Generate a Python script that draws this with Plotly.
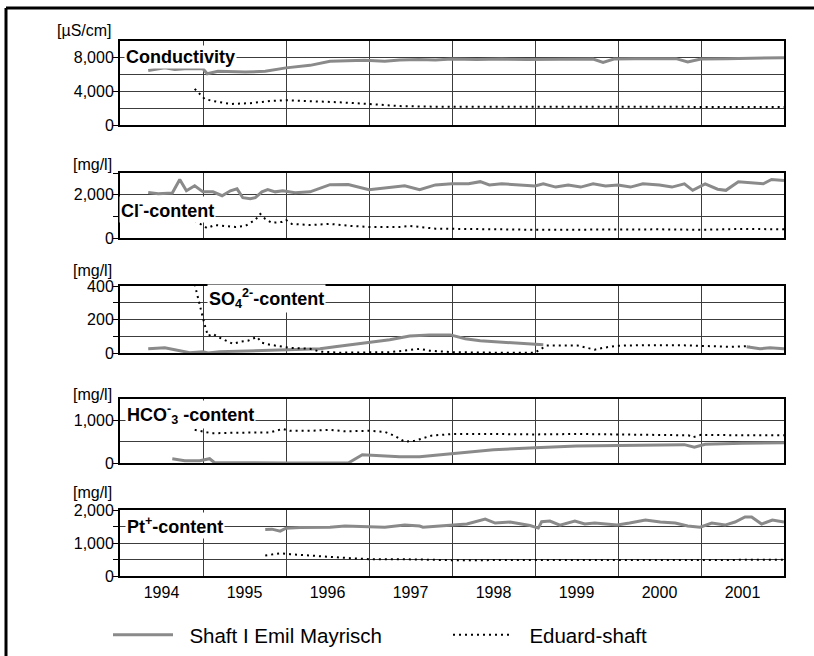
import plotly.graph_objects as go

W, H = 814, 656

# ---------------- data ----------------
year_ticks = [1994.5, 1995.5, 1996.5, 1997.5, 1998.5, 1999.5, 2000.5, 2001.5]
year_labels = ["1994", "1995", "1996", "1997", "1998", "1999", "2000", "2001"]
year_bounds = [1995, 1996, 1997, 1998, 1999, 2000, 2001]

series_names = ["Shaft I Emil Mayrisch", "Eduard-shaft"]

# Conductivity [µS/cm]
cond_t_shaft = [1994.34, 1994.54, 1994.66, 1994.78, 1995.00, 1995.05, 1995.18, 1995.51, 1995.75,
                1996.00, 1996.29, 1996.53, 1996.95, 1997.19, 1997.37, 1997.6, 1997.8, 1998.0,
                1998.3, 1998.6, 1998.9, 1999.2, 1999.5, 1999.7, 1999.82, 1999.95, 2000.2, 2000.5,
                2000.7, 2000.84, 2001.0, 2001.3, 2001.6, 2002.0]
cond_shaft = [6500, 6800, 6600, 6700, 6700, 6100, 6400, 6300, 6400,
              6800, 7100, 7600, 7700, 7600, 7750, 7800, 7750, 7850,
              7800, 7850, 7800, 7850, 7900, 7850, 7450, 7850, 7900, 7850,
              7900, 7500, 7850, 7900, 7950, 8000]
cond_t_edu = [1994.90, 1994.96, 1995.02, 1995.12, 1995.33, 1995.57, 1995.81, 1996.00, 1996.29,
              1996.65, 1997.00, 1997.37, 1997.8, 1998.3, 1998.8, 1999.3, 1999.8, 2000.3, 2000.8,
              2001.3, 2002.0]
cond_edu = [4300, 3700, 3100, 2850, 2500, 2600, 2850, 2950, 2850,
            2700, 2500, 2250, 2180, 2170, 2150, 2150, 2150, 2150, 2150,
            2150, 2150]

# Cl- content [mg/l]
cl_t_shaft = [1994.34, 1994.46, 1994.63, 1994.72, 1994.80, 1994.90, 1995.00, 1995.12, 1995.23,
              1995.33, 1995.41, 1995.48, 1995.57, 1995.63, 1995.71, 1995.78, 1995.87, 1995.96,
              1996.11, 1996.29, 1996.53, 1996.75, 1997.00, 1997.43, 1997.61, 1997.8, 1998.0,
              1998.2, 1998.34, 1998.45, 1998.6, 1998.8, 1999.0, 1999.1, 1999.25, 1999.4, 1999.55,
              1999.7, 1999.85, 2000.0, 2000.15, 2000.3, 2000.5, 2000.65, 2000.8, 2000.9, 2001.05,
              2001.2, 2001.3, 2001.45, 2001.6, 2001.75, 2001.85, 2002.0]
cl_shaft = [2100, 2040, 2080, 2700, 2180, 2410, 2130, 2130, 1950,
            2180, 2270, 1860, 1810, 1860, 2130, 2230, 2130, 2180,
            2090, 2130, 2460, 2470, 2230, 2410, 2230, 2450, 2500,
            2500, 2600, 2450, 2500, 2450, 2400, 2500, 2350, 2450, 2350,
            2500, 2400, 2450, 2350, 2500, 2450, 2350, 2500, 2200, 2500,
            2250, 2200, 2600, 2550, 2500, 2700, 2650]
cl_t_edu = [1994.90, 1995.00, 1995.05, 1995.14, 1995.27, 1995.39, 1995.51, 1995.63, 1995.69,
            1995.75, 1995.83, 1995.95, 1996.00, 1996.07, 1996.29, 1996.53, 1996.77, 1997.00,
            1997.37, 1997.49, 1997.8, 1998.2, 1998.6, 1999.0, 1999.5, 2000.0, 2000.5, 2001.0,
            2001.5, 2002.0]
cl_edu = [800, 560, 460, 600, 560, 510, 560, 835, 1110,
          880, 700, 740, 835, 650, 600, 650, 560, 510,
          510, 560, 430, 400, 400, 380, 400, 390, 400, 380,
          420, 400]

# SO4 2- content [mg/l]
so4_t_shaft = [1994.34, 1994.54, 1994.66, 1994.84, 1995.00, 1995.06, 1995.20, 1995.57, 1996.00,
               1996.41, 1996.59, 1997.00, 1997.25, 1997.49, 1997.73, 1997.98, 1998.16, 1998.34,
               1998.70, 1999.10, 1999.12, 2001.55, 2001.71, 2001.83, 2002.0]
so4_shaft = [25, 31, 20, 2, 8, 0, 8, 14, 20,
             25, 37, 61, 79, 102, 108, 108, 85, 73,
             61, 49, None, 37, 25, 31, 25]
so4_t_edu = [1994.90, 1994.93, 1994.96, 1995.00, 1995.02, 1995.06, 1995.12, 1995.18, 1995.27,
             1995.36, 1995.45, 1995.54, 1995.65, 1995.71, 1995.81, 1995.96, 1996.05, 1996.29,
             1996.41, 1996.65, 1997.00, 1997.25, 1997.43, 1997.61, 1997.73, 1998.00, 1998.5,
             1999.0, 1999.14, 1999.51, 1999.72, 1999.82, 1999.99, 2000.3, 2000.7, 2001.11,
             2001.35, 2001.59]
so4_edu = [410, 345, 286, 209, 168, 102, 114, 96, 73,
           55, 67, 73, 96, 61, 49, 37, 31, 25,
           8, 2, 2, 5, 14, 25, 14, 5, 2,
           2, 45, 45, 20, 31, 43, 47, 47, 43,
           37, 42]

# HCO3- content [mg/l]
hco3_t_shaft = [1994.63, 1994.78, 1994.96, 1995.08, 1995.14, 1995.5, 1996.0, 1996.5, 1996.75,
                1996.92, 1997.13, 1997.37, 1997.61, 1998.0, 1998.5, 1999.0, 1999.5, 2000.0,
                2000.5, 2000.8, 2000.92, 2001.05, 2001.5, 2002.0]
hco3_shaft = [100, 54, 54, 100, 7, 0, 0, 0, 0,
              194, 170, 147, 147, 220, 310, 360, 400, 410,
              420, 430, 370, 440, 460, 475]
hco3_t_edu = [1994.90, 1995.00, 1995.11, 1995.33, 1995.57, 1995.81, 1995.96, 1996.05, 1996.29,
              1996.53, 1996.71, 1997.00, 1997.19, 1997.31, 1997.43, 1997.55, 1997.75, 1998.0,
              1998.5, 1999.0, 1999.5, 2000.0, 2000.5, 2000.85, 2000.9, 2001.0, 2001.5, 2002.0]
hco3_edu = [777, 730, 695, 707, 707, 718, 800, 754, 754,
            777, 742, 754, 730, 637, 497, 520, 640, 680,
            680, 670, 680, 670, 660, 650, 600, 660, 650, 650]

# Pt+ content [mg/l]
pt_t_shaft = [1995.75, 1995.83, 1995.93, 1996.00, 1996.17, 1996.53, 1996.71, 1996.89, 1997.19,
              1997.43, 1997.61, 1997.65, 1998.00, 1998.18, 1998.40, 1998.52, 1998.70, 1998.94,
              1999.04, 1999.08, 1999.18, 1999.30, 1999.48, 1999.60, 1999.72, 1999.84, 1999.99,
              2000.14, 2000.33, 2000.51, 2000.69, 2000.84, 2000.99, 2001.13, 2001.29, 2001.41,
              2001.53, 2001.61, 2001.73, 2001.86, 2002.00]
pt_shaft = [1412, 1420, 1360, 1450, 1467, 1480, 1513, 1497, 1480,
            1543, 1513, 1480, 1543, 1574, 1726, 1604, 1635, 1528,
            1452, 1645, 1665, 1543, 1665, 1574, 1604, 1574, 1543,
            1604, 1696, 1635, 1604, 1513, 1480, 1604, 1543, 1635,
            1787, 1787, 1574, 1696, 1635]
pt_t_edu = [1995.75, 1995.93, 1996.05, 1996.29, 1996.53, 1996.77, 1997.00, 1997.37, 1998.0,
            1998.5, 1999.0, 1999.5, 2000.0, 2000.5, 2001.0, 2001.5, 2002.0]
pt_edu = [620, 690, 660, 615, 570, 540, 510, 510, 480,
          480, 475, 480, 480, 475, 480, 485, 490]

# ---------------- figure ----------------
GRAY = "#8a8a8a"
GRID = "#3c3c3c"
FONT = "Liberation Sans, Arial, sans-serif"

panels = [
    dict(top=41, bottom=125, rng=[0, 10000], dtick=4000, mdtick=2000, mticks="",
         unit="[µS/cm]", uy=31, label="<b>Conductivity</b>", lx=124, ly=57,
         data=(cond_t_shaft, cond_shaft, cond_t_edu, cond_edu)),
    dict(top=173, bottom=238, rng=[0, 3000], dtick=2000, mdtick=1000, mticks="outside",
         unit="[mg/l]", uy=165, label="<b>Cl<sup>-</sup>-content</b>", lx=119, ly=210,
         data=(cl_t_shaft, cl_shaft, cl_t_edu, cl_edu)),
    dict(top=286, bottom=353, rng=[0, 400], dtick=200, mdtick=100, mticks="outside",
         unit="[mg/l]", uy=270, label="<b>SO<sub>4</sub><sup>2-</sup>-content</b>", lx=207, ly=298,
         data=(so4_t_shaft, so4_shaft, so4_t_edu, so4_edu)),
    dict(top=399, bottom=463, rng=[0, 1500], dtick=1000, mdtick=500, mticks="",
         unit="[mg/l]", uy=394, label="<b>HCO<sup>-</sup><sub>3</sub> -content</b>", lx=125, ly=414,
         data=(hco3_t_shaft, hco3_shaft, hco3_t_edu, hco3_edu)),
    dict(top=510, bottom=576, rng=[0, 2000], dtick=1000, mdtick=500, mticks="outside",
         unit="[mg/l]", uy=493, label="<b>Pt<sup>+</sup>-content</b>", lx=125, ly=525,
         data=(pt_t_shaft, pt_shaft, pt_t_edu, pt_edu)),
]

X0, X1 = 120, 784
fig = go.Figure()
annotations = []
layout = {}
for i, p in enumerate(panels):
    n = "" if i == 0 else str(i + 1)
    xa, ya = "x" + n, "y" + n
    ts, vs, te, ve = p["data"]
    fig.add_trace(go.Scatter(x=ts, y=vs, xaxis=xa, yaxis=ya, mode="lines",
                             line=dict(color=GRAY, width=3), name="  " + series_names[0],
                             legendgroup="s", showlegend=(i == 0), connectgaps=False))
    fig.add_trace(go.Scatter(x=te, y=ve, xaxis=xa, yaxis=ya, mode="lines",
                             line=dict(color="black", width=2, dash="2px,4px"),
                             name="  " + series_names[1],
                             legendgroup="e", showlegend=(i == 0)))
    last = (i == len(panels) - 1)
    layout["xaxis" + n] = dict(
        domain=[X0 / W, X1 / W], range=[1994, 2002], anchor=ya,
        tickmode="array", tickvals=year_ticks, ticktext=year_labels,
        showticklabels=last, ticks="", showgrid=False, zeroline=False,
        ticklabelstandoff=1, automargin=False,
        showline=True, mirror=True, linecolor="black", linewidth=2,
        tickfont=dict(size=16, color="black", family=FONT),
        minor=dict(tickmode="array", tickvals=year_bounds, showgrid=True,
                   gridcolor=GRID, gridwidth=1, ticks=""),
    )
    layout["yaxis" + n] = dict(
        domain=[1 - p["bottom"] / H, 1 - p["top"] / H], range=p["rng"], anchor=xa,
        dtick=p["dtick"], tick0=0, tickformat=",d", ticks="outside", ticklen=5,
        tickcolor="black", tickwidth=1, showgrid=True, gridcolor=GRID, gridwidth=1,
        zeroline=False, showline=True, mirror=True, linecolor="black", linewidth=2,
        automargin=False, ticklabelstandoff=-4,
        tickfont=dict(size=16, color="black", family=FONT),
        minor=dict(dtick=p["mdtick"], tick0=0, showgrid=True, gridcolor=GRID, gridwidth=1,
                   ticks=p["mticks"], ticklen=5, tickcolor="black"),
    )
    annotations.append(dict(text=p["unit"], xref="paper", yref="paper",
                            x=114 / W, y=1 - p["uy"] / H, xanchor="right", yanchor="middle",
                            showarrow=False, font=dict(size=16, color="black", family=FONT)))
    annotations.append(dict(text=p["label"], xref="paper", yref="paper",
                            x=p["lx"] / W, y=1 - p["ly"] / H, xanchor="left", yanchor="middle",
                            showarrow=False, bgcolor="white", borderpad=1,
                            font=dict(size=18, color="black", family=FONT)))

fig.update_layout(**layout)
fig.update_layout(
    width=W, height=H, margin=dict(l=0, r=0, t=0, b=0, pad=0, autoexpand=False),
    paper_bgcolor="white", plot_bgcolor="white",
    font=dict(family=FONT, color="black"),
    annotations=annotations,
    showlegend=True,
    legend=dict(orientation="h", x=108 / W, y=1 - 635 / H, xanchor="left", yanchor="middle",
                font=dict(size=20.5, color="black", family=FONT),
                entrywidth=265, entrywidthmode="pixels", itemwidth=60,
                bgcolor="rgba(0,0,0,0)"),
    shapes=[
        dict(type="line", xref="paper", yref="paper", x0=6 / W, x1=1.0, y0=1 - 8 / H, y1=1 - 8 / H,
             line=dict(color="black", width=3)),
        dict(type="line", xref="paper", yref="paper", x0=6 / W, x1=6 / W, y0=0, y1=1 - 8 / H,
             line=dict(color="black", width=3)),
    ],
)

fig.write_html("out.html", config={"displayModeBar": False},
               post_script="document.body.style.margin='0';")
